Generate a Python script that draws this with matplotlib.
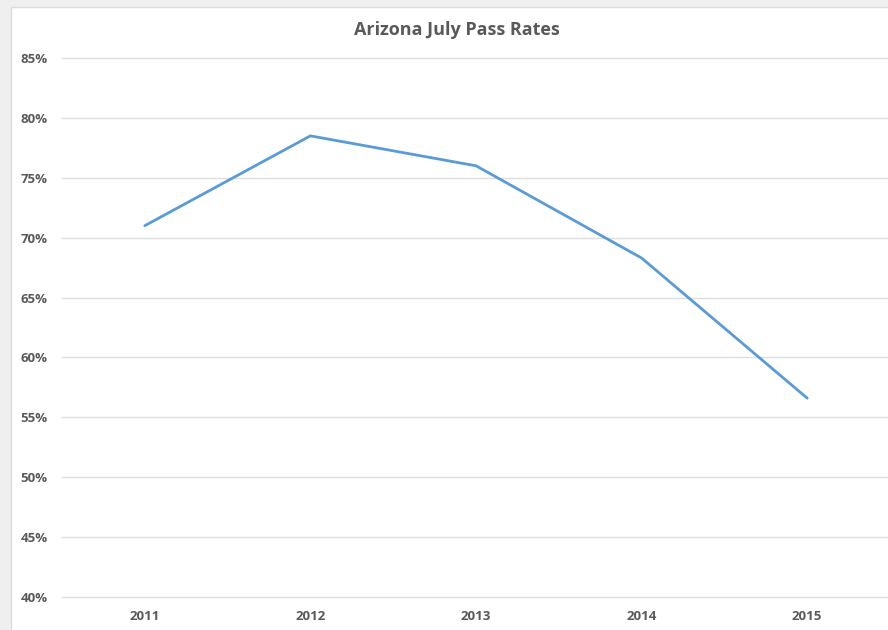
import matplotlib.pyplot as plt
from matplotlib.patches import Rectangle
from matplotlib.ticker import FuncFormatter, MultipleLocator

years = ['2011', '2012', '2013', '2014', '2015']
pass_rates = [71.0, 78.5, 76.0, 68.3, 56.6]

text_color = '#595959'
grid_color = '#dedede'
line_color = '#5b9bd5'

plt.rcParams['font.family'] = ['Open Sans', 'DejaVu Sans']

fig = plt.figure(figsize=(8.88, 6.3), dpi=100, facecolor='#efefef')

# white chart area, runs off the right and bottom edges like the screenshot
fig.patches.append(Rectangle((11 / 888, -0.1), 1.0, 1 - 7 / 630 + 0.1,
                             transform=fig.transFigure, facecolor='white',
                             edgecolor='#dcdcdc', linewidth=1, zorder=-5))

ax = fig.add_axes([62 / 888, 33 / 630, 828 / 888, 539 / 630])
ax.set_zorder(2)
ax.set_facecolor('none')
ax.plot(range(len(years)), pass_rates, color=line_color, linewidth=2.0,
        solid_capstyle='round', clip_on=False, zorder=3)

ax.set_xlim(-0.5, len(years) - 0.5)
ax.set_ylim(40, 85)
ax.yaxis.set_major_locator(MultipleLocator(5))
ax.yaxis.set_major_formatter(FuncFormatter(lambda v, _: f'{v:.0f}%'))
ax.set_xticks(range(len(years)))
ax.set_xticklabels(years)

ax.grid(axis='y', color=grid_color, linewidth=1, clip_on=False)
ax.set_axisbelow(True)
for spine in ax.spines.values():
    spine.set_visible(False)
ax.tick_params(axis='both', length=0, colors=text_color, labelsize=9.5)
ax.tick_params(axis='y', pad=10.5)
ax.tick_params(axis='x', pad=9.5)
for lbl in ax.get_xticklabels() + ax.get_yticklabels():
    lbl.set_fontweight('bold')

fig.text(457 / 888, 1 - 30 / 630, 'Arizona July Pass Rates', ha='center',
         va='center', fontsize=13, fontweight='bold', color=text_color,
         zorder=3)

fig.savefig('out.png', dpi=100, facecolor=fig.get_facecolor())
